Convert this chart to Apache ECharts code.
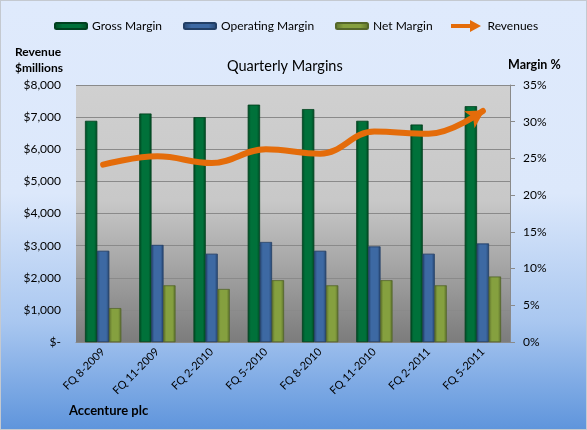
<!DOCTYPE html>
<html>
<head>
<meta charset="utf-8">
<script src="https://cdn.jsdelivr.net/npm/echarts@6/dist/echarts.min.js"></script>
<style>
html,body{margin:0;padding:0;}
#c{width:587px;height:430px;box-sizing:border-box;border:1px solid #c4c9d0;
background:linear-gradient(to bottom,#dfeafc 0%,#dce8fb 45%,#a9c7f0 75%,#5f95dc 100%);}
</style>
</head>
<body>
<div id="c"></div>
<script>
const categories = ['FQ 8-2009','FQ 11-2009','FQ 2-2010','FQ 5-2010','FQ 8-2010','FQ 11-2010','FQ 2-2011','FQ 5-2011'];
const grossMargin = [30.1, 31.1, 30.6, 32.3, 31.7, 30.1, 29.6, 32.1];
const operatingMargin = [12.4, 13.2, 12.0, 13.6, 12.4, 13.0, 12.0, 13.4];
const netMargin = [4.6, 7.7, 7.2, 8.4, 7.7, 8.4, 7.7, 8.9];
const revenues = [5520, 5780, 5570, 6000, 5860, 6550, 6480, 7190];

const FONT = 'Lato';
function hgrad(edge, mid){
  return new echarts.graphic.LinearGradient(0,0,1,0,[
    {offset:0,color:edge},{offset:0.25,color:mid},{offset:0.75,color:mid},{offset:1,color:edge}]);
}
const legendText = {fontFamily:FONT,fontSize:12,color:'#000'};
function barLegend(name, left){
  return {data:[name], left:left, top:14, itemWidth:32, itemHeight:6, textStyle:legendText};
}
const chart = echarts.init(document.getElementById('c'), null, {renderer:'canvas'});
const barCommon = {type:'bar', yAxisIndex:1, barWidth:12, barGap:'0%', barCategoryGap:'34%'};
chart.setOption({
  backgroundColor:'transparent',
  textStyle:{fontFamily:FONT},
  title:[
    {text:'Quarterly Margins', left:221, top:53, textStyle:{fontFamily:FONT,fontSize:14.5,fontWeight:'normal',color:'#000'}},
    {text:'Revenue\n$millions', left:9, top:38, textStyle:{fontFamily:FONT,fontSize:12,fontWeight:'bold',color:'#000',lineHeight:16}},
    {text:'Margin %', left:502, top:52, textStyle:{fontFamily:FONT,fontSize:12.5,fontWeight:'bold',color:'#000'}},
    {text:'Accenture plc', left:63, top:398, textStyle:{fontFamily:FONT,fontSize:13,fontWeight:'bold',color:'#000'}}
  ],
  legend:[
    barLegend('Gross Margin', 48),
    barLegend('Operating Margin', 177),
    barLegend('Net Margin', 329),
    {data:[{name:'Revenues', icon:'path://M0,4L19,4L19,0L30,6L19,12L19,8L0,8Z'}], left:445, top:14, itemWidth:33, itemHeight:12,
     textStyle:legendText}
  ],
  grid:{left:75, right:76, top:84, bottom:87, show:true, borderWidth:0,
    backgroundColor:new echarts.graphic.LinearGradient(0,0,0,1,[
      {offset:0,color:'#d0d0d0'},{offset:0.45,color:'#c8c8c8'},{offset:1,color:'#7c7c7c'}])},
  xAxis:{type:'category', data:categories,
    axisLine:{lineStyle:{color:'#8a8a8a'}}, axisTick:{show:false},
    axisLabel:{rotate:45, fontFamily:FONT, fontSize:11, color:'#000', margin:8}},
  yAxis:[
    {type:'value', min:0, max:8000, interval:1000,
     axisLine:{show:false}, axisTick:{show:false},
     splitLine:{lineStyle:{color:'#8a8a8a',width:1}},
     axisLabel:{fontFamily:FONT, fontSize:12, color:'#000', margin:15,
       formatter:v => v===0 ? '$-' : '$' + v.toLocaleString('en-US')}},
    {type:'value', min:0, max:35, interval:5, position:'right',
     axisLine:{show:true,lineStyle:{color:'#8a8a8a'}}, axisTick:{show:true,length:5,lineStyle:{color:'#8a8a8a'}},
     splitLine:{show:false},
     axisLabel:{fontFamily:FONT, fontSize:12, color:'#000', margin:13, formatter:'{value}%'}}
  ],
  series:[
    Object.assign({name:'Gross Margin', data:grossMargin,
      itemStyle:{color:hgrad('#004a24','#00713a'), borderColor:'#00401f', borderWidth:0.5}}, barCommon),
    Object.assign({name:'Operating Margin', data:operatingMargin,
      itemStyle:{color:hgrad('#274773','#3d69a3'), borderColor:'#223f66', borderWidth:0.5}}, barCommon),
    Object.assign({name:'Net Margin', data:netMargin,
      itemStyle:{color:hgrad('#5d712c','#85a03f'), borderColor:'#55672a', borderWidth:0.5}}, barCommon),
    {name:'Revenues', type:'line', yAxisIndex:0, data:revenues, smooth:0.4, showSymbol:false, z:5,
     color:'#e46c0a',
     lineStyle:{color:'#e46c0a', width:6, cap:'round'},
     markPoint:{symbol:'path://M0,0L10,16L0,12L-10,16Z', symbolSize:[20,18], symbolRotate:-58,
       symbolOffset:[-6,4], itemStyle:{color:'#e46c0a'}, label:{show:false}, silent:true,
       data:[{coord:[categories.length-1, revenues[revenues.length-1]]}]}}
  ]
});
</script>
</body>
</html>
